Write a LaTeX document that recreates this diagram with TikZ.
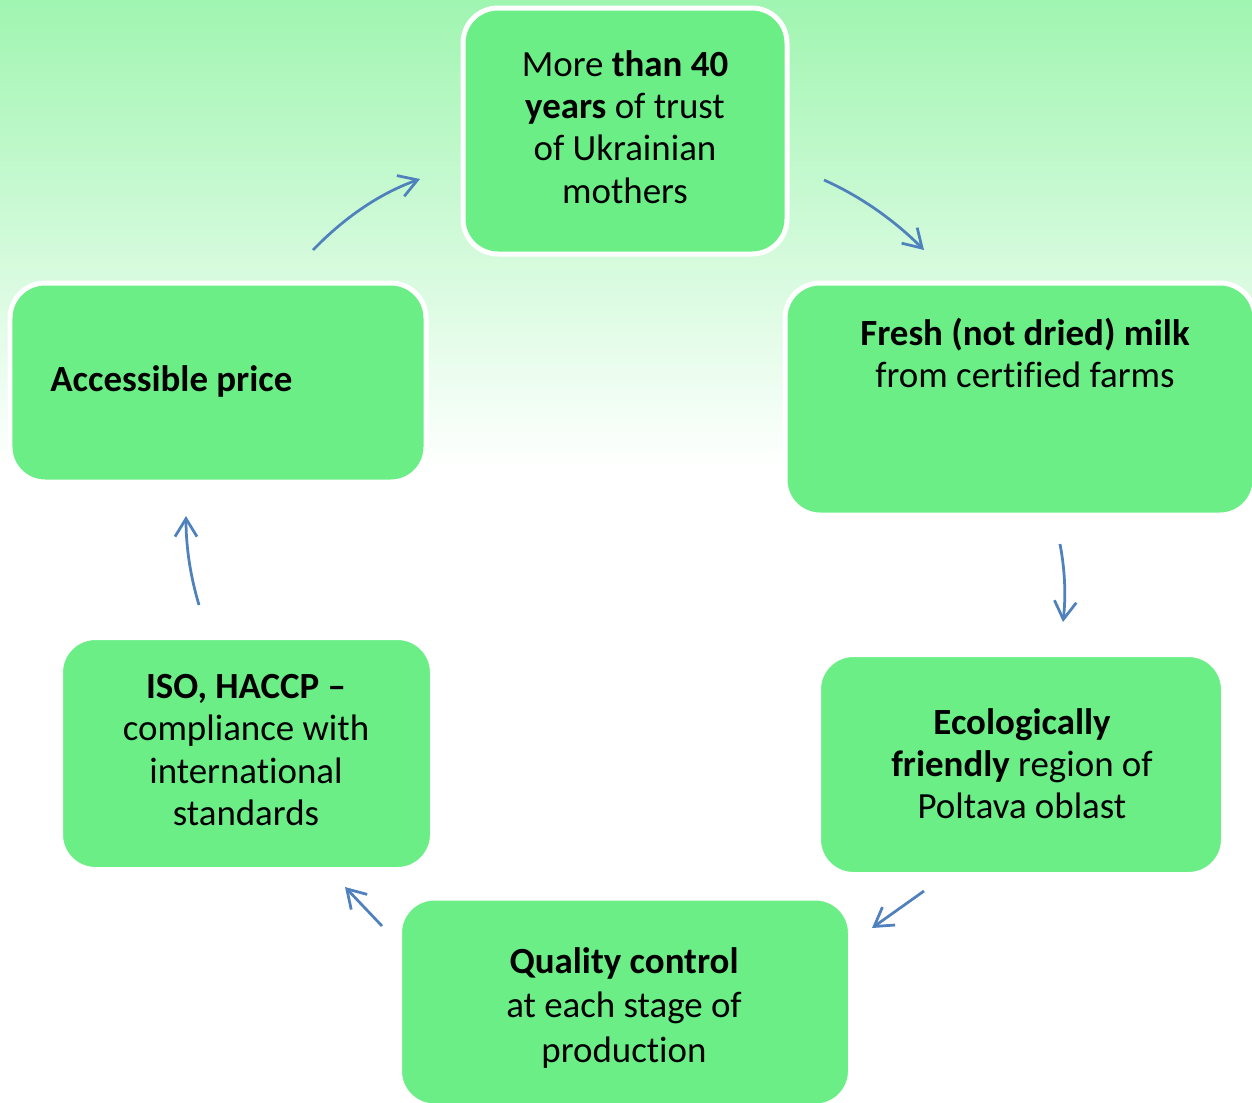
\documentclass[tikz,border=0pt]{standalone}
\usepackage{fontspec}
\setmainfont{Carlito}[Ligatures = NoCommon]
\usepackage{xcolor}
\usetikzlibrary{arrows.meta}

\definecolor{boxgreen}{RGB}{106,238,133}
\definecolor{topgreen}{RGB}{160,245,177}
\definecolor{arrowblue}{RGB}{79,129,189}

\tikzset{
  box/.style = {draw = white, line width = 0.1cm, fill = boxgreen,
    rounded corners = 0.7cm, inner sep = 0pt},
  label/.style = {align = center, inner sep = 0pt, text = black,
    font = \fontsize{21}{24}\selectfont},
  arr/.style = {arrowblue, line width = 0.055cm,
    -{Straight Barb[length=3.6mm, width=4.4mm]}}
}

\begin{document}
\begin{tikzpicture}[x = 0.02cm, y = -0.02cm]
\useasboundingbox (0,0) rectangle (1252,1103);
\clip (0,0) rectangle (1252,1103);
\fill[white] (0,0) rectangle (1252,1103);
\shade[top color = topgreen, bottom color = white] (0,0) rectangle (1252,470);

% boxes
\node[box, minimum width = 324*0.02cm, minimum height = 246*0.02cm] (trust) at (625,131) {};
\node[box, minimum width = 470*0.02cm, minimum height = 232*0.02cm] (milk) at (1020,399) {};
\node[box, minimum width = 416*0.02cm, minimum height = 199*0.02cm] (price) at (218,382.5) {};
\node[box, minimum width = 372*0.02cm, minimum height = 232*0.02cm] (iso) at (246.5,753.5) {};
\node[box, minimum width = 405*0.02cm, minimum height = 220*0.02cm] (eco) at (1021,764.5) {};
\node[box, minimum width = 451*0.02cm, minimum height = 208*0.02cm] (quality) at (625,1002) {};

% texts
\node[label] (trusttext) at (625,127) {More \textbf{than 40}\\\textbf{years} of trust\\of Ukrainian\\mothers};
\node[label] (milktext) at (1025,353) {\textbf{Fresh (not dried) milk}\\from certified farms};
\node[label, anchor = west] (pricetext) at (50,381) {\textbf{Accessible price}};
\node[label] (isotext) at (246,750) {\textbf{ISO, HACCP –}\\compliance with\\international\\standards};
\node[label] (ecotext) at (1022,764) {\textbf{Ecologically}\\\textbf{friendly} region of\\Poltava oblast};
\node[label, font = \fontsize{21}{25.5}\selectfont] (qualitytext) at (624,1008) {\textbf{Quality control}\\at each stage of\\production};

% arrows
\coordinate (a1s) at (313,250);  \coordinate (a1e) at (420,179);
\coordinate (a2s) at (824,180);  \coordinate (a2e) at (924,250);
\coordinate (a3s) at (1060,544); \coordinate (a3e) at (1063,622);
\coordinate (a4s) at (924,891);  \coordinate (a4e) at (872,928);
\coordinate (a5s) at (382,926);  \coordinate (a5e) at (345,887);
\coordinate (a6s) at (199,605);  \coordinate (a6e) at (186,516);

\draw[arr] (a1s) .. controls (343,219) and (378,194) .. (a1e);
\draw[arr] (a2s) .. controls (862,197) and (895,221) .. (a2e);
\draw[arr] (a3s) .. controls (1065,570) and (1066,596) .. (a3e);
\draw[arr] (a4s) -- (a4e);
\draw[arr] (a5s) -- (a5e);
\draw[arr] (a6s) .. controls (190,575) and (186,546) .. (a6e);
\end{tikzpicture}
\end{document}
